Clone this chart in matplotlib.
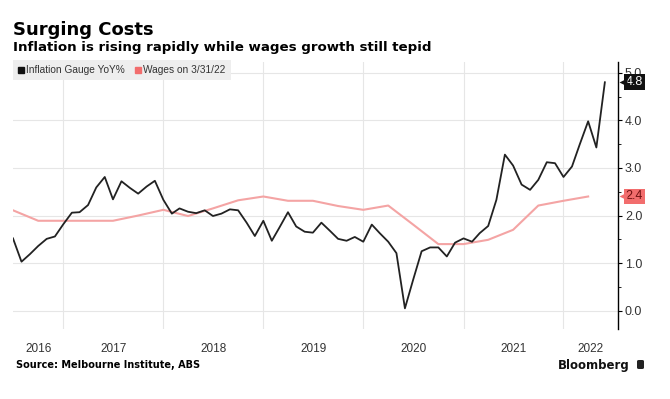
import matplotlib
matplotlib.use('Agg')
import numpy as np
import pandas as pd
import matplotlib.pyplot as plt
import matplotlib.transforms as mtransforms
from matplotlib.lines import Line2D
from matplotlib.patches import FancyBboxPatch

# monthly inflation gauge, Jul 2016 .. Jun 2022
inflation = [1.52, 1.03, 1.19, 1.36, 1.51, 1.56,
             1.82, 2.06, 2.07, 2.22, 2.59, 2.81,
             2.34, 2.72, 2.58, 2.46, 2.61, 2.73,
             2.33, 2.04, 2.15, 2.08, 2.05, 2.11,
             1.99, 2.04, 2.13, 2.11, 1.85, 1.57,
             1.89, 1.47, 1.75, 2.07, 1.77, 1.66,
             1.64, 1.85, 1.68, 1.51, 1.47, 1.55,
             1.45, 1.81, 1.63, 1.45, 1.21, 0.05,
             0.65, 1.25, 1.33, 1.33, 1.14, 1.43,
             1.52, 1.45, 1.63, 1.78, 2.33, 3.28,
             3.05, 2.65, 2.54, 2.75, 3.12, 3.10,
             2.81, 3.03, 3.49, 3.98, 3.43, 4.80]

# quarterly wages growth
wages = [2.11, 1.89, 1.89, 1.89, 1.89, 2.00, 2.12, 1.99,
         2.15, 2.32, 2.40, 2.31, 2.31, 2.20, 2.12, 2.21,
         1.81, 1.40, 1.40, 1.49, 1.70, 2.21, 2.31, 2.40]

years = [2016, 2017, 2018, 2019, 2020, 2021, 2022]
y_ticks = [0, 1, 2, 3, 4, 5]

infl_dates = pd.date_range('2016-07-01', periods=len(inflation), freq='MS')
wage_dates = pd.date_range('2016-07-01', periods=len(wages), freq='3MS')
x_start = pd.Timestamp('2016-07-01')
x_end = pd.Timestamp('2022-07-19')

tick_font = ['Liberation Sans', 'DejaVu Sans']

W, H = 670, 399
fig = plt.figure(figsize=(W / 100, H / 100), dpi=100)
ax = fig.add_axes([13 / W, 1 - 329 / H, (618 - 13) / W, (329 - 62) / H])

ax.plot(wage_dates, wages, color='#f4a4a4', lw=1.5, zorder=3)
ax.plot(infl_dates, inflation, color='#222222', lw=1.3, zorder=4)

ax.set_xlim(x_start, x_end)
ax.set_ylim(-0.384, 5.226)

# year boundaries as gridlines, labels centred in each visible year
bounds = [pd.Timestamp(f'{y}-01-01') for y in years[1:]]
ax.set_xticks(bounds)
ax.set_xticklabels([])
centres = []
for y in years:
    a = max(pd.Timestamp(f'{y}-01-01'), x_start)
    b = min(pd.Timestamp(f'{y + 1}-01-01'), x_end)
    centres.append(a + (b - a) / 2)
ax.set_xticks(centres, minor=True)
ax.set_xticklabels([str(y) for y in years], minor=True, family=tick_font)
ax.tick_params(axis='x', which='both', length=0, pad=10, labelsize=8.5,
               labelcolor='#333333')

ax.yaxis.tick_right()
ax.set_yticks(y_ticks)
ax.set_yticklabels([f'{v:.1f}' for v in y_ticks], family=tick_font)
ax.set_yticks([0.5, 1.5, 2.5, 3.5, 4.5], minor=True)
ax.tick_params(axis='y', which='major', length=3, width=0.8, pad=2,
               labelsize=9, labelcolor='#333333')
ax.tick_params(axis='y', which='minor', length=2, width=0.6)

ax.grid(True, which='major', color='#e6e6e6', lw=0.8)
ax.set_axisbelow(True)
for s in ['top', 'left', 'bottom']:
    ax.spines[s].set_visible(False)
ax.spines['right'].set_linewidth(1.0)

# value tags on the axis
trans = mtransforms.blended_transform_factory(ax.transAxes, ax.transData)
for val, fc, tc in [(inflation[-1], '#111111', 'white'),
                    (wages[-1], '#f26d6d', '#6e1010')]:
    ax.text(1.0125, val, f'{val:.1f}', transform=trans, ha='left',
            va='center', fontsize=9, color=tc, clip_on=False, zorder=6,
            family=tick_font,
            bbox=dict(boxstyle='square,pad=0.15', fc=fc, ec='none'))
    ax.plot([1.0075], [val], marker='<', ms=6, color=fc, mec='none',
            transform=trans, clip_on=False, zorder=6)

handles = [Line2D([], [], marker='s', ls='none', color='#111111', ms=4.5),
           Line2D([], [], marker='s', ls='none', color='#f26d6d', ms=4.5)]
leg = fig.legend(handles, ['Inflation Gauge YoY%', 'Wages on 3/31/22'],
                 loc='upper left', bbox_to_anchor=(13 / W, 1 - 60 / H),
                 ncol=2, frameon=True, fancybox=False,
                 prop={'family': tick_font, 'size': 7.3},
                 facecolor='#eeeeee', edgecolor='none', framealpha=1,
                 handlelength=0.6, handletextpad=0.2, columnspacing=1.0,
                 borderpad=0.5, borderaxespad=0)
for t in leg.get_texts():
    t.set_color('#333333')

fig.text(13 / W, 1 - 30 / H, 'Surging Costs', fontsize=13, weight='bold',
         va='center', ha='left')
fig.text(13 / W, 1 - 48 / H,
         'Inflation is rising rapidly while wages growth still tepid',
         fontsize=9.6, weight='bold', va='center', ha='left')
fig.text(16 / W, 1 - 365 / H, 'Source: Melbourne Institute, ABS',
         fontsize=7, weight='bold', va='center', ha='left')
fig.text(630 / W, 1 - 365 / H, 'Bloomberg', fontsize=8.5, weight='bold',
         va='center', ha='right', color='#111111')
fig.patches.append(FancyBboxPatch((637 / W, 1 - 369 / H), 7 / W, 9 / H,
                                  boxstyle='round,pad=0,rounding_size=0.003',
                                  fc='#222222', ec='none',
                                  transform=fig.transFigure, figure=fig))

fig.savefig('out.png', dpi=100)
